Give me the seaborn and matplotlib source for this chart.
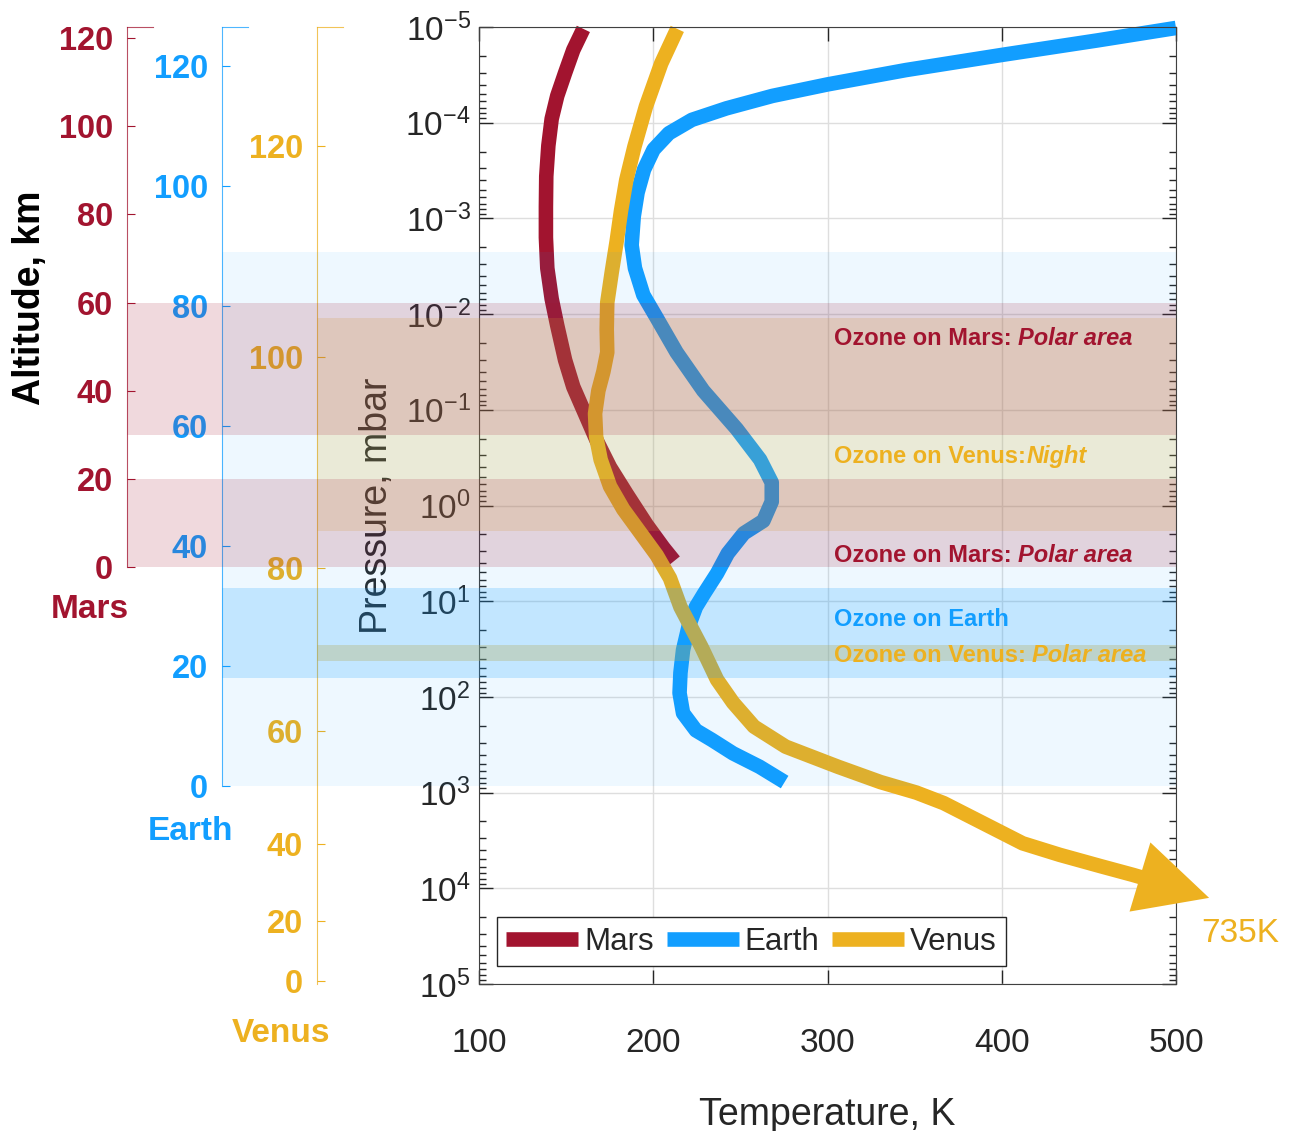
import numpy as np
import matplotlib
matplotlib.use("Agg")
import matplotlib.pyplot as plt
from matplotlib.ticker import LogLocator, NullLocator
import seaborn as sns

sns.set_style("ticks")
plt.rcParams['font.family'] = ['Liberation Sans', 'DejaVu Sans']
plt.rcParams['mathtext.fontset'] = 'custom'
plt.rcParams['mathtext.rm'] = 'Liberation Sans'
plt.rcParams['axes.unicode_minus'] = False

# colours
mars_c = '#A2142F'
earth_c = '#129EFF'
venus_c = '#EDB120'
ink = '#262626'

# temperature profiles (K) vs log10 pressure (mbar)
mars_T = [159.9, 154.1, 149.4, 144.9, 141.7, 139.8, 138.6, 138.4, 138.4, 139.2, 141.7,
          144.9, 149.4, 154.1, 160.8, 167.5, 175.2, 184.8, 196.2, 205.8, 212]
mars_logp = [-4.98, -4.76, -4.52, -4.28, -4.04, -3.76, -3.44, -3.12, -2.80, -2.48, -2.16,
             -1.88, -1.52, -1.24, -0.96, -0.68, -0.40, -0.12, 0.20, 0.44, 0.58]

earth_T = [500, 455, 400.7, 345, 300, 268.4, 242, 222.2, 209, 200.2, 194.7, 191, 188.8,
           187.6, 189.5, 194.3, 202, 213.4, 228.7, 247.9, 261.3, 268, 268, 263.2,
           252, 242.8, 236.6, 229.2, 224.5, 220.2, 217.1, 215.6, 215.1, 217.1, 224.5,
           233.7, 245.8, 261, 275.4]
earth_logp = [-4.99, -4.86, -4.71, -4.55, -4.40, -4.28, -4.15, -4.03, -3.89, -3.72, -3.51, -3.27,
              -3.02, -2.72, -2.48, -2.20, -1.96, -1.60, -1.20, -0.80, -0.48, -0.24, -0.04, 0.16,
              0.29, 0.50, 0.71, 0.92, 1.06, 1.27, 1.51, 1.75, 1.96, 2.17, 2.35,
              2.45, 2.59, 2.73, 2.89]

venus_T = [213.8, 204.6, 195.8, 189.2, 184.5, 181.5, 179, 176.2, 173.6, 173.3, 173.6,
           171.4, 168.5, 166.6, 167.2, 169.8, 175.2, 182.8, 192.4, 202, 209.6, 215.6, 227.7,
           236.6, 245.8, 257.8, 276, 306, 330.4, 351, 366.7, 381.8, 396.9, 412, 433.2,
           457, 475.3, 481]
venus_logp = [-4.98, -4.62, -4.17, -3.75, -3.40, -3.08, -2.76, -2.44, -2.12, -1.84, -1.60,
              -1.40, -1.20, -0.96, -0.72, -0.48, -0.20, 0.04, 0.28, 0.52, 0.76, 1.06, 1.48,
              1.82, 2.06, 2.31, 2.52, 2.73, 2.89, 3.0, 3.11, 3.25, 3.39, 3.53, 3.65,
              3.77, 3.86, 3.89]
venus_tip = (519, 4.1)

# altitude axes
alt_ticks = [0, 20, 40, 60, 80, 100, 120]
venus_tick_logp = [4.97, 4.34, 3.54, 2.36, 0.65, -1.55, -3.76]  # pressure at venus altitude ticks

# ozone / atmosphere bands (km)
mars_bands = [(0, 20), (30, 60)]
earth_air = (0, 89)
earth_ozone = (18, 33)
venus_night = (83.5, 103.7)
venus_polar = (68.6, 70.6)

# annotation labels: (plain, italic, colour, log10 p)
ozone_labels = [
    ("Ozone on Mars:", "Polar area", mars_c, -1.74),
    ("Ozone on Venus:", "Night", venus_c, -0.51),
    ("Ozone on Mars:", "Polar area", mars_c, 0.52),
    ("Ozone on Earth", "", earth_c, 1.19),
    ("Ozone on Venus:", "Polar area", venus_c, 1.57),
]

W, H = 1296, 1131
fig = plt.figure(figsize=(W / 100, H / 100), dpi=100)


def rect(x0, y_top, x1, y_bot):
    return [x0 / W, 1 - y_bot / H, (x1 - x0) / W, (y_bot - y_top) / H]


# ---- main axes
ax = fig.add_axes(rect(479, 27, 1176, 984))
lw = 10.5
for T, lp, c, name in [(mars_T, mars_logp, mars_c, 'Mars'),
                       (earth_T, earth_logp, earth_c, 'Earth'),
                       (venus_T, venus_logp, venus_c, 'Venus')]:
    sns.lineplot(x=T, y=10.0 ** np.array(lp), sort=False, estimator=None, color=c,
                 lw=lw, label=name, ax=ax, clip_on=False, solid_capstyle='butt',
                 solid_joinstyle='round')

ax.annotate('', xy=(venus_tip[0], 10 ** venus_tip[1]),
            xytext=(venus_T[-2], 10 ** venus_logp[-2]),
            arrowprops=dict(arrowstyle='-|>,head_length=1.3,head_width=0.65', color=venus_c,
                            lw=0, shrinkA=0, shrinkB=0, mutation_scale=40),
            annotation_clip=False)

ax.set_yscale('log')
ax.set_ylim(1e5, 1e-5)
ax.set_xlim(100, 500)
ax.set_xticks([100, 200, 300, 400, 500])
ax.set_yticks(10.0 ** np.arange(-5, 6))
ax.yaxis.set_minor_locator(LogLocator(base=10, subs=np.arange(2, 10), numticks=100))
ax.tick_params(which='both', direction='in', top=True, right=True, colors=ink,
               labelsize=24, width=1)
ax.tick_params(which='major', length=10)
ax.tick_params(which='minor', length=5)
ax.tick_params(axis='x', pad=32)
ax.tick_params(axis='y', pad=6)
ax.grid(True, which='major', color='#dedede', lw=1)
for s in ax.spines.values():
    s.set_color('#404040')
ax.set_xlabel('Temperature, K', fontsize=27, color=ink)
ax.set_ylabel('Pressure, mbar', fontsize=27, color=ink)
ax.xaxis.set_label_coords(0.5, -0.118)
ax.yaxis.set_label_coords(-0.12, 0.5)

ax.legend(ncol=3, loc='lower left', bbox_to_anchor=(497 / W, 1 - 966 / H),
          bbox_transform=fig.transFigure, fontsize=22.5, frameon=True, fancybox=False,
          edgecolor=ink, framealpha=1, handlelength=2.3, handletextpad=0.2,
          columnspacing=0.4, borderpad=0.3, borderaxespad=0)
ax.get_legend().get_frame().set_linewidth(1)


# ---- planet altitude axes (drawn on top of the main axes)
def planet_axis(r, color, width_px):
    a = fig.add_axes(r)
    a.patch.set_visible(False)
    for side in ['right', 'bottom']:
        a.spines[side].set_visible(False)
    for side in ['left', 'top']:
        a.spines[side].set_color(color)
        a.spines[side].set_alpha(0.75)
    a.set_xlim(0, 1)
    a.spines['top'].set_bounds(0, 26 / width_px)
    a.set_xticks([])
    a.tick_params(axis='y', direction='in', length=6, color=color, pad=10)
    return a


ax_v = planet_axis(rect(317, 27, 1176, 984), venus_c, 859)
ax_v.set_yscale('log')
ax_v.set_ylim(1e5, 1e-5)
ax_v.set_yticks(10.0 ** np.array(venus_tick_logp), [str(t) for t in alt_ticks],
                fontsize=23.5, fontweight='bold', color=venus_c)
ax_v.yaxis.set_minor_locator(NullLocator())


def venus_p(alt):
    return 10.0 ** np.interp(alt, alt_ticks, venus_tick_logp)


ax_v.axhspan(venus_p(venus_night[0]), venus_p(venus_night[1]), color=venus_c, alpha=0.19, lw=0)
ax_v.axhspan(venus_p(venus_polar[0]), venus_p(venus_polar[1]), color=venus_c, alpha=0.3, lw=0)

ax_e = planet_axis(rect(222, 27, 1176, 786), earth_c, 954)
ax_e.set_ylim(0, (786 - 27) / 6.0)
ax_e.set_yticks(alt_ticks, [str(t) for t in alt_ticks], fontsize=23.5,
                fontweight='bold', color=earth_c)
ax_e.axhspan(*earth_air, color=earth_c, alpha=0.07, lw=0)
ax_e.axhspan(*earth_ozone, color=earth_c, alpha=0.2, lw=0)

ax_m = planet_axis(rect(127, 27, 1176, 567), mars_c, 1049)
ax_m.set_ylim(0, (567 - 27) / 4.408)
ax_m.set_yticks(alt_ticks, [str(t) for t in alt_ticks], fontsize=23.5,
                fontweight='bold', color=mars_c)
for lo, hi in mars_bands:
    ax_m.axhspan(lo, hi, color=mars_c, alpha=0.16, lw=0)

# ozone labels above the bands
for plain, ital, c, lp in ozone_labels:
    t1 = ax_m.text(303.5, 10 ** lp, plain, transform=ax.transData, color=c, fontsize=17,
                   fontweight='bold', va='center', ha='left', zorder=10)
    if ital:
        gap = 1 if ital == 'Night' else 5
        ax_m.annotate(ital, xy=(1, 0), xycoords=t1, xytext=(gap, 0),
                      textcoords='offset points', va='bottom', ha='left', color=c,
                      fontsize=17, fontweight='bold', fontstyle='italic', zorder=10)

fig.text(90 / W, 1 - 610 / H, 'Mars', color=mars_c, fontsize=24, fontweight='bold',
         ha='center', va='center')
fig.text(190 / W, 1 - 832 / H, 'Earth', color=earth_c, fontsize=24, fontweight='bold',
         ha='center', va='center')
fig.text(281 / W, 1 - 1033 / H, 'Venus', color=venus_c, fontsize=24, fontweight='bold',
         ha='center', va='center')
fig.text(30 / W, 1 - 298 / H, 'Altitude, km', color='black', fontsize=27,
         fontweight='bold', rotation=90, ha='center', va='center')
fig.text(1240 / W, 1 - 934 / H, '735K', color=venus_c, fontsize=24,
         ha='center', va='center')

fig.savefig('out.png', dpi=100)
